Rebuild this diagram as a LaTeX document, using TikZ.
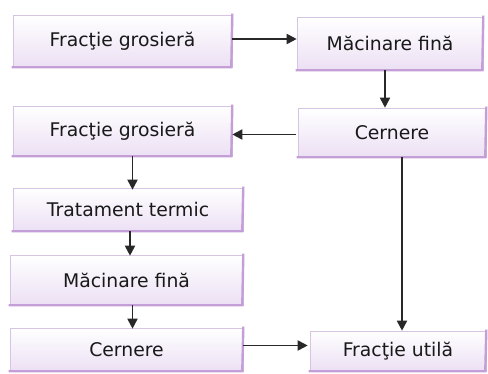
\documentclass[tikz,border=0pt]{standalone}
\usepackage{fontspec}
\setmainfont{DejaVu Sans}
\usetikzlibrary{arrows.meta}
\definecolor{boxedge}{RGB}{214,196,226}
\definecolor{boxshadow}{RGB}{196,158,214}
\definecolor{boxfill}{RGB}{236,224,244}
\definecolor{arrowc}{RGB}{40,40,40}
\begin{document}
\begin{tikzpicture}[x=1pt,y=-1pt,
  box/.style={draw=boxedge, line width=0.6pt, top color=white, bottom color=boxfill,
    inner sep=0pt, font=\fontsize{18.8}{22}\selectfont, text=black!90},
  arr/.style={draw=arrowc, line width=1.8pt, -{Triangle[length=10pt,width=10pt]}}]
\useasboundingbox (0,0) rectangle (488,374);
\node[box, minimum width=219pt, minimum height=52pt] (b1) at (122.5,41) {Fracţie grosieră};
\node[box, minimum width=186pt, minimum height=53pt] (b2) at (390,43.5) {Măcinare fină};
\node[box, minimum width=219pt, minimum height=50pt] (b3) at (122.5,131) {Fracţie grosieră};
\node[box, minimum width=188pt, minimum height=49pt] (b4) at (392,132.5) {Cernere};
\node[box, minimum width=230pt, minimum height=43pt] (b5) at (128,209.5) {Tratament termic};
\node[box, minimum width=233pt, minimum height=50pt] (b6) at (126.5,280) {Măcinare fină};
\node[box, minimum width=233pt, minimum height=43pt] (b7) at (126.5,349.5) {Cernere};
\node[box, minimum width=176pt, minimum height=40pt] (b8) at (398,351) {Fracţie utilă};
\foreach \n in {b1,b2,b3,b4,b5,b6,b7,b8}{
  \draw[boxshadow, line width=2.4pt] ([xshift=-1pt]\n.south west) -- ([xshift=-1pt]\n.south east) -- ([yshift=1pt]\n.north east);
}
\draw[arr] ([yshift=2pt]b1.east) -- ([yshift=2pt]b1.east -| b2.west);
\draw[arr] ([xshift=-5pt]b2.south) -- ([xshift=-5pt]b2.south |- b4.north);
\draw[arr] ([xshift=-2pt,yshift=-2pt]b4.west) -- ([yshift=-2pt]b4.west -| b3.east);
\draw[arr] ([xshift=10pt]b4.south) -- ([xshift=10pt]b4.south |- b8.north);
\draw[arr] ([xshift=10pt]b3.south) -- ([xshift=10pt,yshift=-2pt]b3.south |- b5.north);
\draw[arr] ([xshift=2pt]b5.south) -- ([xshift=2pt,yshift=-1pt]b5.south |- b6.north);
\draw[arr] ([xshift=6pt]b6.south) -- ([xshift=6pt,yshift=-1pt]b6.south |- b7.north);
\draw[arr] ([yshift=4pt]b7.east) -- ([yshift=4pt,xshift=-2pt]b7.east -| b8.west);
\end{tikzpicture}
\end{document}
